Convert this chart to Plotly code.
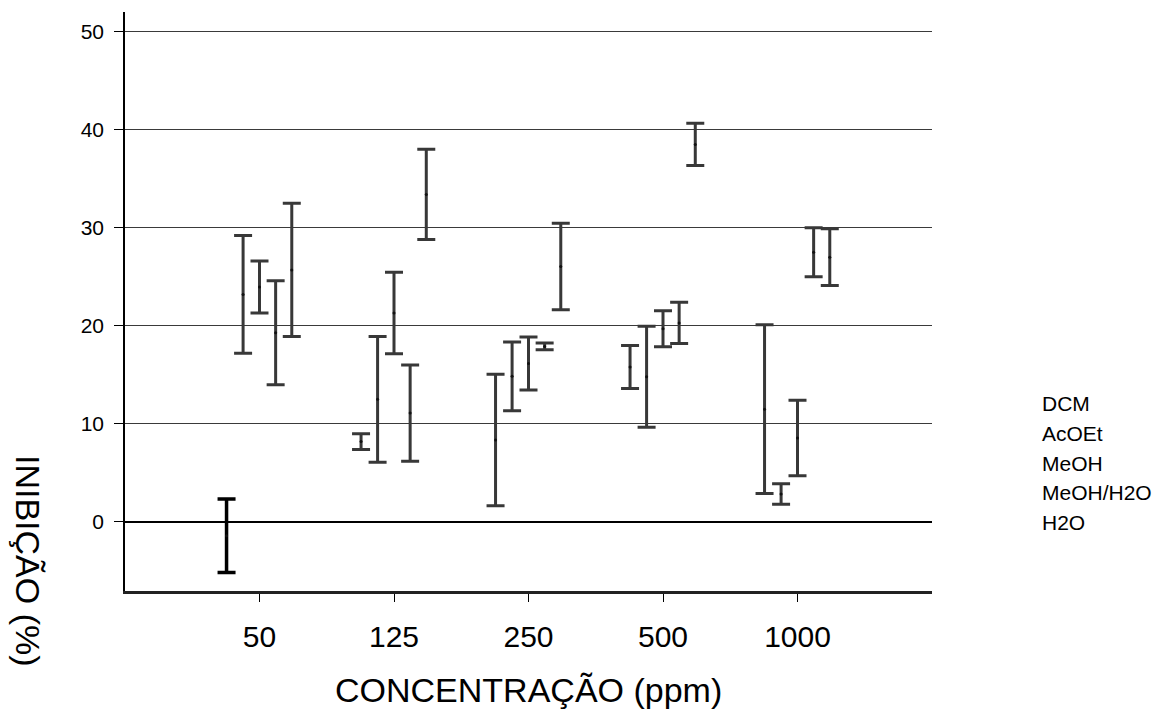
import plotly.graph_objects as go

categories = ["50", "125", "250", "500", "1000"]
series = ["DCM", "AcOEt", "MeOH", "MeOH/H2O", "H2O"]

# mean values (INIBIÇÃO %) per series, one per concentration
dcm_mean = [-1.4, 8.2, 8.35, 15.8, 11.5]
acoet_mean = [23.2, 12.5, 14.85, 14.8, 2.85]
meoh_mean = [23.95, 21.3, 16.15, 19.7, 8.55]
meohh2o_mean = [19.3, 11.1, 17.9, 20.3, 27.5]
h2o_mean = [25.7, 33.4, 26.05, 38.5, 27.0]

# half-width of the error bars
dcm_err = [3.75, 0.8, 6.7, 2.2, 8.6]
acoet_err = [6.0, 6.4, 3.5, 5.15, 1.05]
meoh_err = [2.65, 4.15, 2.7, 1.83, 3.85]
meohh2o_err = [5.3, 4.9, 0.35, 2.1, 2.5]
h2o_err = [6.8, 4.6, 4.4, 2.15, 2.9]

means = [dcm_mean, acoet_mean, meoh_mean, meohh2o_mean, h2o_mean]
errs = [dcm_err, acoet_err, meoh_err, meohh2o_err, h2o_err]
offsets = [-0.245, -0.122, 0.0, 0.12, 0.24]

FONT = "Liberation Sans, Arial, sans-serif"

fig = go.Figure()
for s, name in enumerate(series):
    for i, cat in enumerate(categories):
        col = "#000000" if (s == 0 and i == 0) else "#383838"
        fig.add_trace(go.Scatter(
            x=[i + offsets[s]], y=[means[s][i]],
            mode="markers",
            marker=dict(size=3, color="#111111"),
            error_y=dict(type="data", array=[errs[s][i]], symmetric=True,
                         color=col, thickness=3 if col != "#000000" else 3.5,
                         width=9),
            name=name, showlegend=False, hoverinfo="y",
        ))

fig.update_layout(
    width=1163, height=713,
    margin=dict(l=125, r=231, t=12, b=122),
    paper_bgcolor="white", plot_bgcolor="white",
    font=dict(family=FONT, color="black"),
    showlegend=False,
    xaxis=dict(
        range=[-1, 5], tickmode="array", tickvals=list(range(len(categories))),
        ticktext=categories, showgrid=False, zeroline=False,
        showline=True, linecolor="#222222", linewidth=2.5,
        ticks="outside", ticklen=8, tickcolor="black", tickwidth=1,
        tickfont=dict(size=30, family=FONT, color="black"),
        ticklabelstandoff=9,
    ),
    yaxis=dict(
        range=[-7.04, 52.0], tick0=0, dtick=10,
        showgrid=True, gridcolor="#3a3a3a", gridwidth=1,
        zeroline=True, zerolinecolor="black", zerolinewidth=1.5,
        showline=True, linecolor="black", linewidth=1.5,
        ticks="outside", ticklen=9, tickcolor="black", tickwidth=1,
        tickfont=dict(size=21, family=FONT, color="black"),
        ticklabelstandoff=6,
    ),
)

fig.add_annotation(text="CONCENTRAÇÃO (ppm)", xref="paper", yref="paper",
                   x=0.5, y=(591 - 690) / 579, xanchor="center", yanchor="middle",
                   showarrow=False, font=dict(size=34, family=FONT, color="black"))
fig.add_annotation(text="INIBIÇÃO (%)", xref="paper", yref="paper",
                   x=(28 - 125) / 807, y=(591 - 561) / 579, xanchor="center", yanchor="middle",
                   textangle=90, showarrow=False,
                   font=dict(size=34, family=FONT, color="black"))

legend_y = [403, 433, 463, 492, 522]
for name, ypx in zip(series, legend_y):
    fig.add_annotation(text=name, xref="paper", yref="paper",
                       x=(1040 - 125) / 807, y=(591 - ypx) / 579,
                       xanchor="left", yanchor="middle", showarrow=False,
                       font=dict(size=21, family=FONT, color="black"))

fig.write_html("out.html", config={"displayModeBar": False},
               post_script="document.body.style.margin='0';")
